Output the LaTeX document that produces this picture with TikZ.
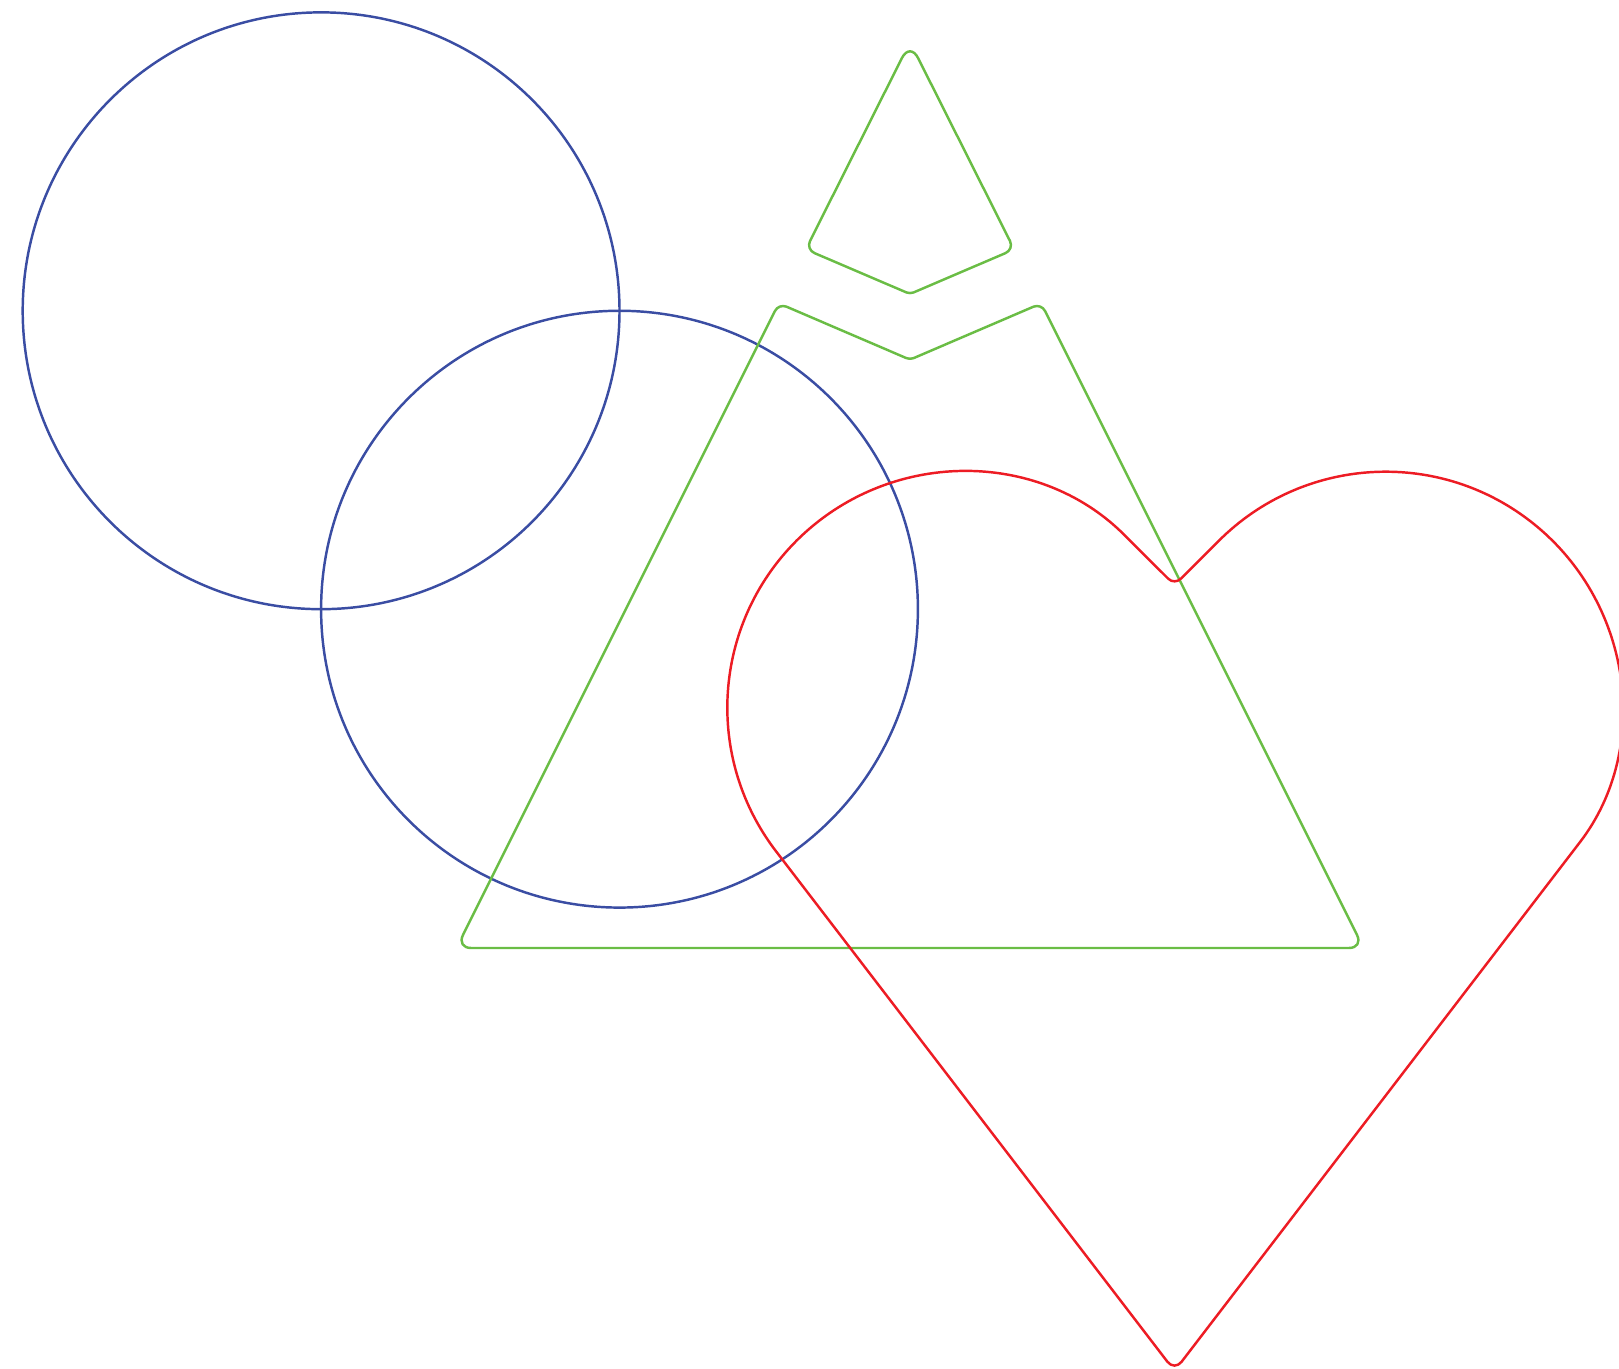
\documentclass[tikz,border=0pt]{standalone}
\usepackage{tikz}
\usepackage{xcolor}
\definecolor{ShapeBlue}{HTML}{3A4DA3}
\definecolor{ShapeGreen}{HTML}{6ABD45}
\definecolor{ShapeRed}{HTML}{ED1C24}

\begin{document}
\begin{tikzpicture}[
    ring/.style={draw=ShapeBlue, line width=0.7pt},
    peak/.style={draw=ShapeGreen, line width=0.7pt, line join=round},
    heart/.style={draw=ShapeRed, line width=0.7pt, line join=round}
  ]
    \useasboundingbox (0,0) rectangle (16.19,13.69);

    % two touching rings
    \draw[ring] (3.211,10.582) circle (2.984);
    \draw[ring] (6.195,7.598) circle (2.984);

    % cut triangle
    \coordinate (apex) at (9.10,13.27);
    \coordinate (capleft) at (8.058,11.196);
    \coordinate (capnotch) at (9.10,10.75);
    \coordinate (capright) at (10.142,11.196);
    \coordinate (capside) at (9.621,12.233);
    \coordinate (baseleft) at (4.565,4.21);
    \coordinate (basemid) at (9.10,4.21);
    \coordinate (baseright) at (13.635,4.21);
    \coordinate (cutleft) at (7.788,10.656);
    \coordinate (cutnotch) at (9.10,10.093);
    \coordinate (cutright) at (10.412,10.656);

    \draw[peak] (capside) [rounded corners=2.7pt] -- (capright) [rounded corners=1.1pt] -- (capnotch)
      [rounded corners=2.7pt] -- (capleft) [rounded corners=5.1pt] -- (apex) -- cycle;
    \draw[peak] (basemid) [rounded corners=4.1pt] -- (baseleft) [rounded corners=2.4pt] -- (cutleft)
      [rounded corners=1.1pt] -- (cutnotch) [rounded corners=2.4pt] -- (cutright)
      [rounded corners=4.1pt] -- (baseright) -- cycle;

    % heart
    \coordinate (leftlobe) at (9.633,6.613);
    \coordinate (rightlobe) at (13.857,6.613);
    \coordinate (tip) at (11.745,-0.02);
    \coordinate (dip) at (11.745,7.84);
    \path (leftlobe) ++(45:2.36) coordinate (upleft);
    \path (leftlobe) ++(217.48:2.36) coordinate (lowleft);
    \path (rightlobe) ++(-37.48:2.36) coordinate (lowright);
    \path (rightlobe) ++(135:2.36) coordinate (upright);

    \draw[heart] (lowleft) [rounded corners=3.3pt] -- (tip) -- (lowright) [sharp corners]
      arc[start angle=-37.48, end angle=135, radius=2.36]
      [rounded corners=2.5pt] -- (dip) -- (upleft) [sharp corners]
      arc[start angle=45, end angle=217.48, radius=2.36] -- cycle;
  \end{tikzpicture}
\end{document}
